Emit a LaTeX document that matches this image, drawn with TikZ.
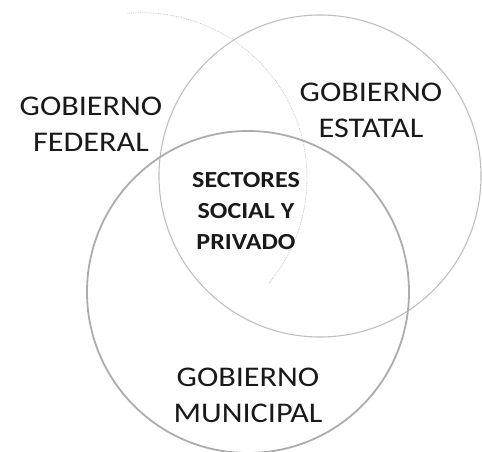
\documentclass[tikz,border=0pt]{standalone}
\usepackage{fontspec}
\setmainfont[FakeStretch=1.13]{Carlito}
\begin{document}
\begin{tikzpicture}[x=1pt,y=-1pt,
  ring/.style={circle, inner sep=0pt, minimum size=#1},
  lab/.style={font=\fontsize{28.5}{36}\selectfont, align=center, inner sep=0pt, text=black!90},
  core/.style={font=\bfseries\fontsize{23}{31}\selectfont, align=center, inner sep=0pt, text=black!90}]
\useasboundingbox (0,0) rectangle (482,452);
\node[ring=330pt] (federal) at (142,178) {};
\draw[gray!45, densely dotted, line width=0.8pt] (federal.95) arc[start angle=95, end angle=-40, radius=165pt];
\node[ring=322pt, draw=gray!50, line width=1.1pt] (estatal) at (320,176) {};
\node[ring=322pt, draw=gray!65, line width=1.8pt] (municipal) at (248,292) {};
\node[lab] (tfed) at (91,124) {GOBIERNO\\FEDERAL};
\node[lab] (test) at (371,110) {GOBIERNO\\ESTATAL};
\node[lab] (tmun) at (248,395) {GOBIERNO\\MUNICIPAL};
\node[core] (tcore) at (246,211) {SECTORES\\SOCIAL Y\\PRIVADO};
\end{tikzpicture}
\end{document}
